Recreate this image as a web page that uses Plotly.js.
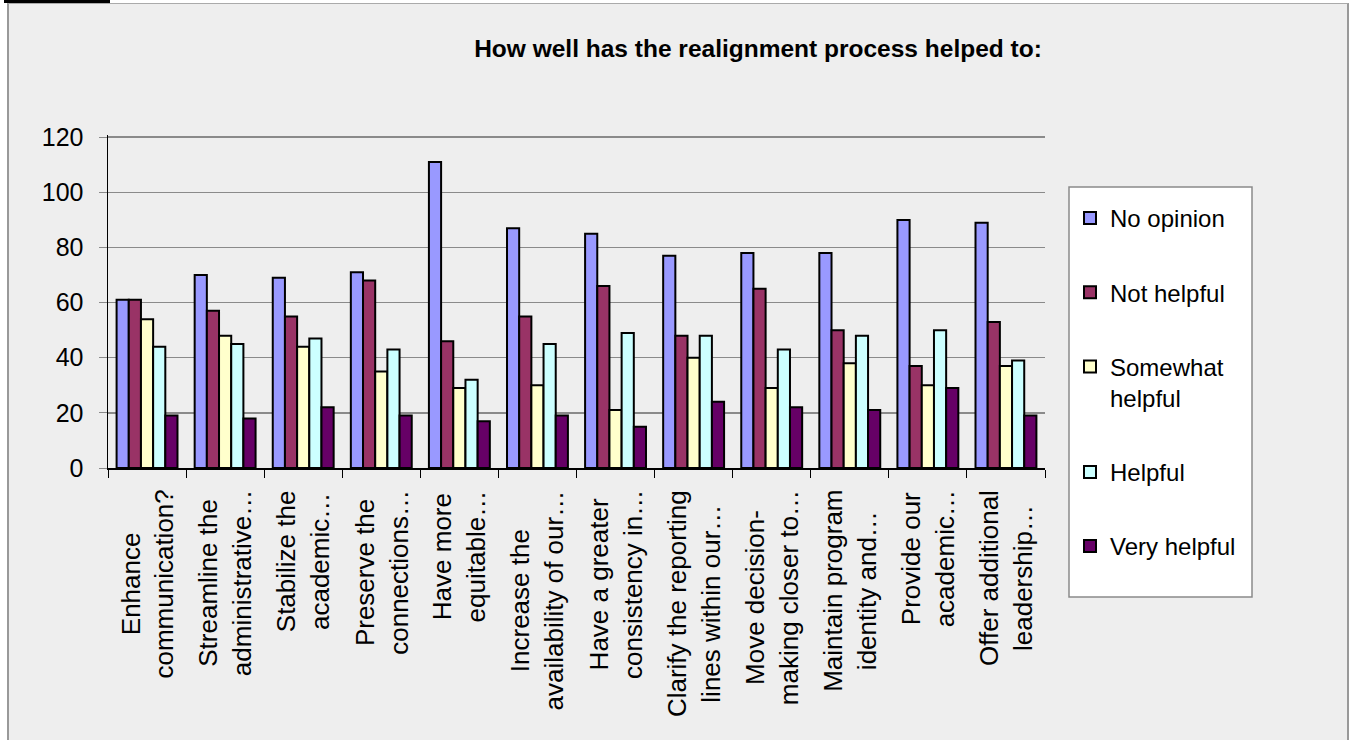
<!DOCTYPE html>
<html><head><meta charset="utf-8">
<script src="https://cdn.plot.ly/plotly-3.0.1.min.js"></script>
<style>
html,body{margin:0;padding:0;background:#ffffff;}
#bg{position:absolute;left:7px;top:3px;width:1338px;height:760px;background:#eeeeee;border-left:2px solid #999999;border-top:1px solid #aaaaaa;border-right:2px solid #999999;z-index:0;}
#bar{position:absolute;left:4px;top:0px;width:106px;height:3px;background:#000000;z-index:0;}
#chart{position:absolute;left:0;top:0;width:1351px;height:740px;z-index:1;}
</style>
</head><body>
<div id="bg"></div><div id="bar"></div>
<div id="chart"></div>
<script>
const categories = [
  "Enhance<br>communication?",
  "Streamline the<br>administrative…",
  "Stabilize the<br>academic…",
  "Preserve the<br>connections…",
  "Have more<br>equitable…",
  "Increase the<br>availability of our…",
  "Have a greater<br>consistency in…",
  "Clarify the reporting<br>lines within our…",
  "Move decision-<br>making closer to…",
  "Maintain program<br>identity and…",
  "Provide our<br>academic…",
  "Offer additional<br>leadership…"
];
const seriesNames = ["No opinion", "Not helpful", "Somewhat<br>helpful", "Helpful", "Very helpful"];
const noOpinion   = [61, 70, 69, 71, 111, 87, 85, 77, 78, 78, 90, 89];
const notHelpful  = [61, 57, 55, 68, 46, 55, 66, 48, 65, 50, 37, 53];
const somewhat    = [54, 48, 44, 35, 29, 30, 21, 40, 29, 38, 30, 37];
const helpful     = [44, 45, 47, 43, 32, 45, 49, 48, 43, 48, 50, 39];
const veryHelpful = [19, 18, 22, 19, 17, 19, 15, 24, 22, 21, 29, 19];
const yTicks = [0, 20, 40, 60, 80, 100, 120];
const titleText = "How well has the realignment process helped to:";

const colors = ["#9999ff", "#993366", "#ffffcc", "#ccffff", "#660066"];
const values = [noOpinion, notHelpful, somewhat, helpful, veryHelpful];
const FONT = "Liberation Sans, Arial, sans-serif";

const traces = values.map((v, i) => ({
  type: "bar", name: seriesNames[i], x: categories, y: v,
  legendgroup: "g" + i,
  marker: {color: colors[i], line: {color: "#000000", width: 2}},
  hoverinfo: "none"
}));

const annotations = categories.map(c => ({
  x: c, xref: "x", y: 0, yref: "paper", yshift: -20,
  text: c, showarrow: false, textangle: -90, align: "center",
  xanchor: "center", yanchor: "top",
  font: {family: FONT, size: 26, color: "#000"}
}));

const L = 108, R = 1045, T = 135, B = 468;
const pw = R - L, ph = B - T;
const px = x => (x - L) / pw;
const py = y => (B - y) / ph;

const layout = {
  width: 1351, height: 740,
  paper_bgcolor: "rgba(0,0,0,0)", plot_bgcolor: "rgba(0,0,0,0)",
  margin: {l: L, r: 1351 - R, t: T, b: 740 - B, pad: 0},
  barmode: "group", bargap: 0.22, bargroupgap: 0,
  showlegend: true,
  title: {text: "<b>" + titleText + "</b>", font: {family: FONT, size: 24.5, color: "#000"},
          x: 758 / 1351, xanchor: "center", y: 1 - 48 / 740, yanchor: "middle"},
  xaxis: {type: "category", showticklabels: false, ticks: "outside", ticklen: 8, tickcolor: "#000", tickwidth: 1,
          showline: true, linecolor: "#000", linewidth: 1.5, showgrid: false, tickson: "boundaries"},
  yaxis: {range: [0, 120.8], tickvals: yTicks, ticktext: yTicks.map(String),
          showline: true, linecolor: "#000", linewidth: 1.5, ticks: "outside", ticklen: 8, tickcolor: "#8a8a8a",
          gridcolor: "#8a8a8a", gridwidth: 1.5, zeroline: false,
          tickfont: {family: FONT, size: 25, color: "#000"}, ticklabelstandoff: 10},
  legend: {
    x: px(1070), xanchor: "left", y: py(196), yanchor: "top",
    bgcolor: "rgba(0,0,0,0)", borderwidth: 0, maxheight: 700,
    font: {family: FONT, size: 24, color: "#000"},
    tracegroupgap: 40, valign: "top"
  },
  annotations: annotations,
  shapes: [
    {type: "rect", xref: "paper", yref: "paper", layer: "below",
     x0: px(1069), x1: px(1252), y0: py(597), y1: py(187),
     fillcolor: "#ffffff", line: {color: "#8a8a8a", width: 1.5}}
  ]
};
Plotly.newPlot("chart", traces, layout, {displayModeBar: false, staticPlot: true});
</script>
</body></html>
